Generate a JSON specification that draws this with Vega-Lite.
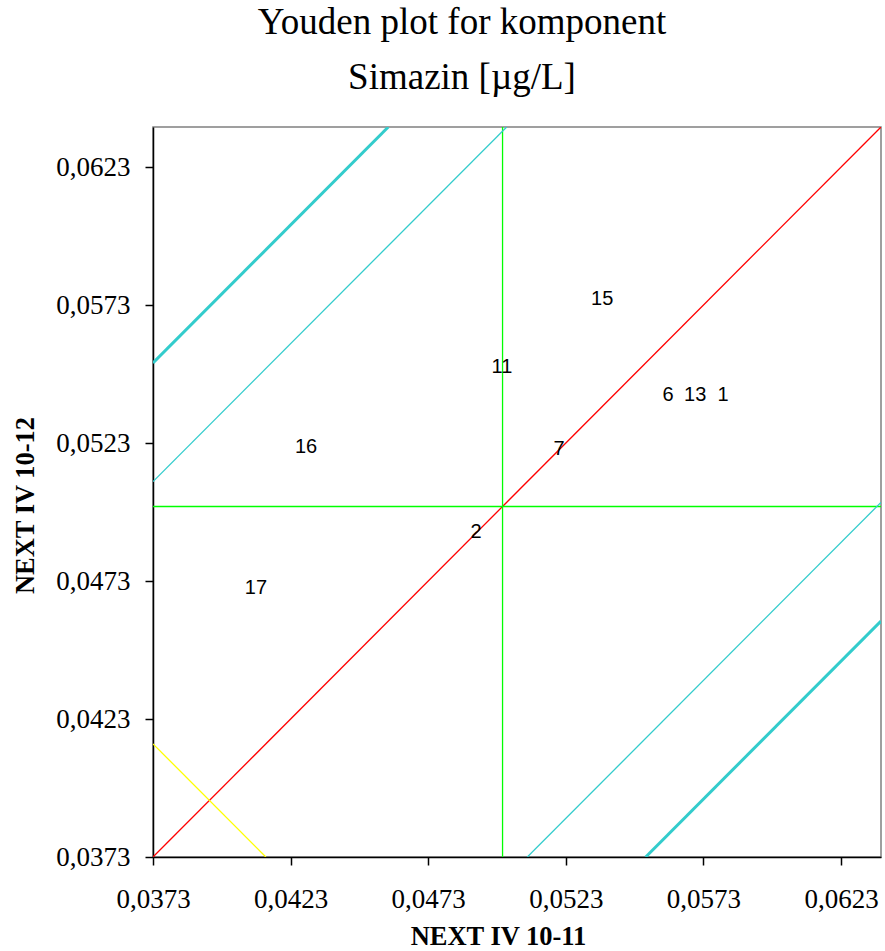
{
  "$schema": "https://vega.github.io/schema/vega-lite/v6.json",
  "width": 728,
  "height": 730,
  "autosize": {"type": "none"},
  "padding": {"left": 153, "top": 127, "right": 4, "bottom": 94},
  "background": "white",
  "title": {
    "text": ["Youden plot for komponent", "Simazin [µg/L]"],
    "font": "Liberation Serif",
    "fontSize": 37,
    "fontWeight": "normal",
    "color": "black",
    "anchor": "middle",
    "dx": -55,
    "offset": 1,
    "baseline": "alphabetic",
    "lineHeight": 55
  },
  "config": {
    "view": {"stroke": "#808080", "strokeWidth": 1.5},
    "axis": {
      "grid": false,
      "domainColor": "black",
      "domainWidth": 1.5,
      "tickColor": "black",
      "tickSize": 8,
      "tickWidth": 1.5,
      "labelFont": "Liberation Serif",
      "labelFontSize": 27,
      "labelColor": "black",
      "labelFlush": false,
      "labelOverlap": false,
      "titleFont": "Liberation Serif",
      "titleFontSize": 26.5,
      "titleFontWeight": "bold",
      "titleColor": "black"
    }
  },
  "datasets": {
    "lines": [
      {"role": "diag", "x1": 0.0373, "y1": 0.0373, "x2": 0.06375, "y2": 0.06375},
      {"role": "mean", "x1": 0.05, "y1": 0.0373, "x2": 0.05, "y2": 0.06375},
      {"role": "mean", "x1": 0.0373, "y1": 0.05, "x2": 0.06375, "y2": 0.05},
      {"role": "inner", "x1": 0.0373, "y1": 0.0509, "x2": 0.05015, "y2": 0.06375},
      {"role": "inner", "x1": 0.0509, "y1": 0.0373, "x2": 0.06375, "y2": 0.05015},
      {"role": "perp", "x1": 0.0373, "y1": 0.0414, "x2": 0.0414, "y2": 0.0373},
      {"role": "outer", "x1": 0.0373, "y1": 0.0552, "x2": 0.04585, "y2": 0.06375},
      {"role": "outer", "x1": 0.0552, "y1": 0.0373, "x2": 0.06375, "y2": 0.04585}
    ],
    "labs": [
      {"lab": "1", "x": 0.05801, "y": 0.05403},
      {"lab": "2", "x": 0.04904, "y": 0.04906},
      {"lab": "6", "x": 0.05601, "y": 0.05403},
      {"lab": "7", "x": 0.05205, "y": 0.05207},
      {"lab": "11", "x": 0.04998, "y": 0.05504},
      {"lab": "13", "x": 0.057, "y": 0.05403},
      {"lab": "15", "x": 0.05362, "y": 0.05751},
      {"lab": "16", "x": 0.04286, "y": 0.05214},
      {"lab": "17", "x": 0.04104, "y": 0.04706}
    ]
  },
  "layer": [
    {
      "data": {"name": "lines"},
      "transform": [{"filter": "datum.role != 'outer'"}],
      "mark": {"type": "rule", "strokeWidth": 1.3, "clip": true},
      "encoding": {
        "x": {
          "field": "x1",
          "type": "quantitative",
          "scale": {"domain": [0.0373, 0.06375], "nice": false, "zero": false},
          "axis": {
            "values": [0.0373, 0.0423, 0.0473, 0.0523, 0.0573, 0.0623],
            "labelExpr": "replace(format(datum.value, '.4f'), '.', ',')",
            "labelPadding": 21,
            "title": "NEXT IV 10-11",
            "titleX": 345,
            "titleY": 87,
            "titleBaseline": "alphabetic",
            "titleAlign": "center"
          }
        },
        "y": {
          "field": "y1",
          "type": "quantitative",
          "scale": {"domain": [0.0373, 0.06375], "nice": false, "zero": false},
          "axis": {
            "values": [0.0373, 0.0423, 0.0473, 0.0523, 0.0573, 0.0623],
            "labelExpr": "replace(format(datum.value, '.4f'), '.', ',')",
            "labelPadding": 15,
            "title": "NEXT IV 10-12",
            "titleX": -120,
            "titleY": 378,
            "titleAngle": -90,
            "titleBaseline": "alphabetic",
            "titleAlign": "center"
          }
        },
        "x2": {"field": "x2"},
        "y2": {"field": "y2"},
        "color": {
          "field": "role",
          "type": "nominal",
          "scale": {"domain": ["diag", "mean", "inner", "perp"], "range": ["#ff0000", "#00ff00", "#33cccc", "#ffff00"]},
          "legend": null
        }
      }
    },
    {
      "data": {"name": "lines"},
      "transform": [{"filter": "datum.role == 'outer'"}],
      "mark": {"type": "rule", "strokeWidth": 3, "color": "#33cccc", "clip": true},
      "encoding": {
        "x": {"field": "x1", "type": "quantitative"},
        "y": {"field": "y1", "type": "quantitative"},
        "x2": {"field": "x2"},
        "y2": {"field": "y2"}
      }
    },
    {
      "data": {"name": "labs"},
      "mark": {"type": "text", "font": "Liberation Sans", "fontSize": 20, "color": "black", "align": "center", "baseline": "middle"},
      "encoding": {
        "x": {"field": "x", "type": "quantitative"},
        "y": {"field": "y", "type": "quantitative"},
        "text": {"field": "lab"}
      }
    }
  ]
}
